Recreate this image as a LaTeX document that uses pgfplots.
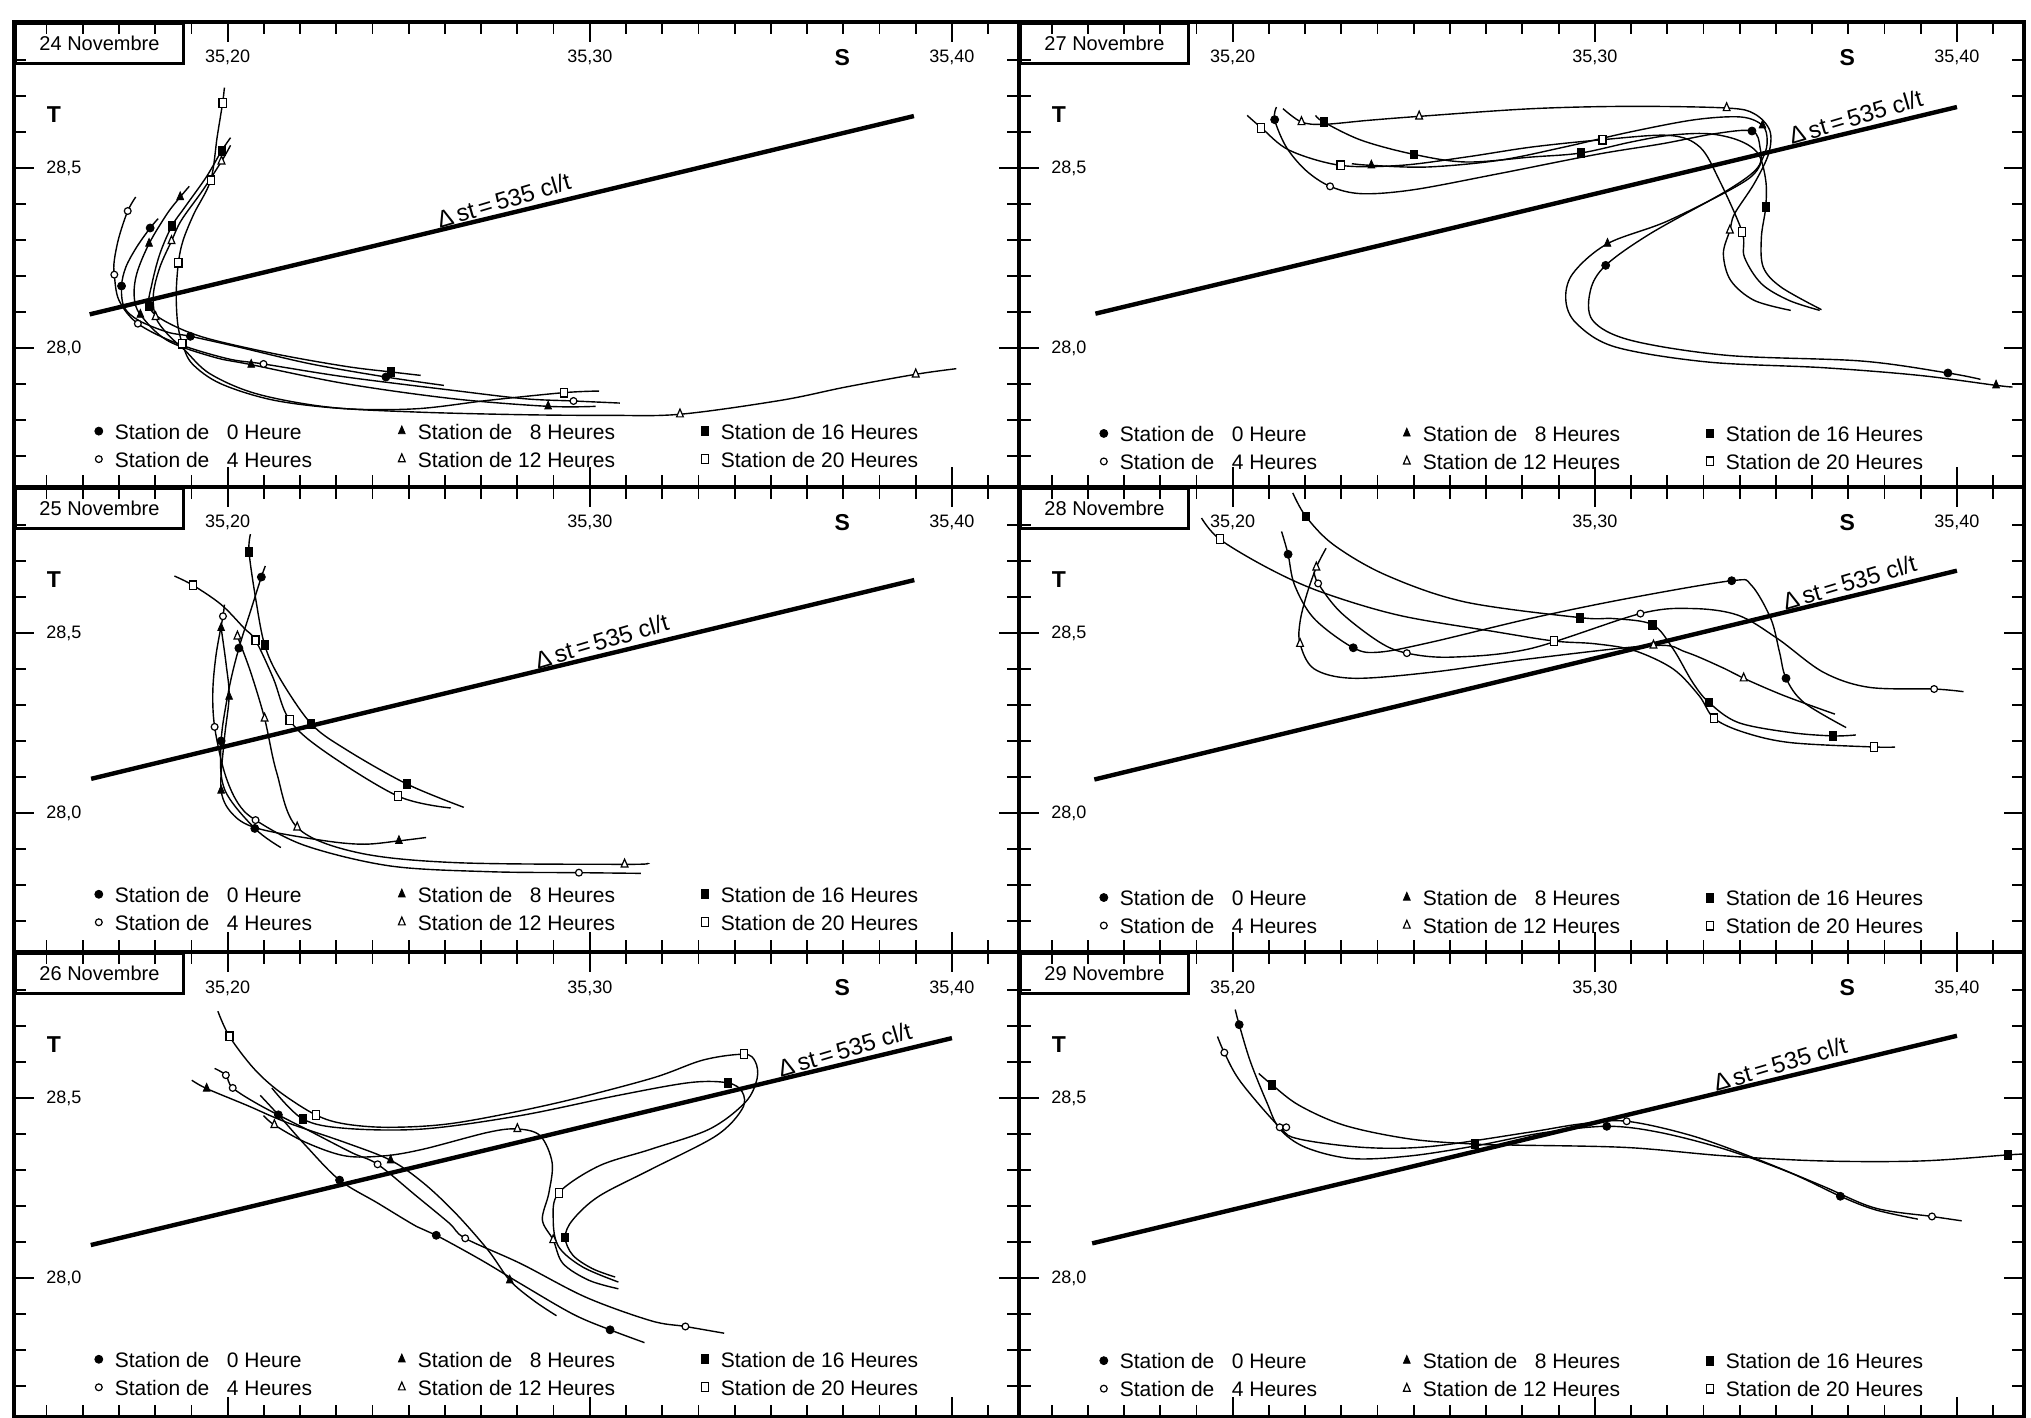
\documentclass[border=0pt]{standalone}
\usepackage{pgfplots}
\pgfplotsset{compat=1.18}
\usepackage{fontspec}
\setmainfont{Liberation Sans}
\setsansfont{Liberation Sans}
\newcommand\fTick{\fontsize{9}{10}\selectfont}
\newcommand\fLeg{\fontsize{10.5}{12}\selectfont}
\newcommand\fDate{\fontsize{10}{12}\selectfont}
\newcommand\fDelta{\fontsize{12}{13}\selectfont}
\newcommand\fST{\fontsize{11.5}{12}\selectfont\bfseries}
\tikzset{dstlab/.style={above, sloped, rotate=3, inner sep=1.5pt, font=\fDelta}}
\pgfplotsset{
  crv/.style={black, line width=0.7pt, smooth, tension=0.55, no marks, forget plot},
  mk0/.style={black, only marks, mark=*, mark size=2pt},
  mk4/.style={black, only marks, mark=*, mark size=1.7pt, mark options={fill=white, line width=0.6pt}},
  mk8/.style={black, only marks, mark=triangle*, mark size=2.6pt, mark options={xscale=0.75}},
  mk12/.style={black, only marks, mark=triangle*, mark size=2.6pt, mark options={xscale=0.75, fill=white, line width=0.6pt}},
  mk16/.style={black, only marks, mark=square*, mark size=2.2pt, mark options={xscale=0.8}},
  mk20/.style={black, only marks, mark=square*, mark size=2.2pt, mark options={xscale=0.8, fill=white, line width=0.6pt}},
  dst/.style={black, line width=2.2pt, no marks, forget plot},
  tsaxis/.style={
    x=1810.7pt, y=180pt,
    xmin=35.141, xmax=35.4186, ymin=27.614, ymax=28.906,
    anchor=south west,
    axis line style={line width=2pt},
    tick align=inside,
    xtick={35.2,35.3,35.4},
    minor xtick={35.15,35.16,35.17,35.18,35.19,35.21,35.22,35.23,35.24,35.25,35.26,35.27,35.28,35.29,35.31,35.32,35.33,35.34,35.35,35.36,35.37,35.38,35.39,35.41},
    ytick={28.0,28.5},
    minor ytick={27.7,27.8,27.9,28.1,28.2,28.3,28.4,28.6,28.7,28.8},
    xticklabels={,,}, yticklabels={,},
    major tick length=10pt, minor tick length=6pt,
    every tick/.style={black, line width=0.9pt},
    clip=false,
    legend columns=3,
    legend style={draw=none, fill=none, anchor=west, inner sep=0pt,
      font=\fLeg, row sep=6pt, column sep=0pt,
      nodes={inner sep=0pt, text height=8pt, text depth=0pt}},
    legend image code/.code={\path[draw=none, fill=none] (-3pt,-3pt) rectangle (3pt,3pt); \draw[##1] plot coordinates {(0pt,0pt)};},
  },
}
\newcommand\legtext[1]{\makebox[145.5pt][l]{\hspace{5pt}Station de #1}}
\newcommand\tslegend{%
 \addlegendimage{mk0}\addlegendentry{\legtext{\phantom{1}0 Heure}}
 \addlegendimage{mk8}\addlegendentry{\legtext{\phantom{1}8 Heures}}
 \addlegendimage{mk16}\addlegendentry{\legtext{16 Heures}}
 \addlegendimage{mk4}\addlegendentry{\legtext{\phantom{1}4 Heures}}
 \addlegendimage{mk12}\addlegendentry{\legtext{12 Heures}}
 \addlegendimage{mk20}\addlegendentry{\legtext{20 Heures}}
}
\newcommand\panelframe[1]{%
  \node[draw, line width=1.5pt, anchor=north west, minimum width=84pt, minimum height=20pt, inner sep=0pt, font=\fDate] at (rel axis cs:0,1) {#1};
  \node[font=\fTick] at (axis cs:35.2,28.806) {35,20};
  \node[font=\fTick] at (axis cs:35.3,28.806) {35,30};
  \node[font=\fTick] at (axis cs:35.4,28.806) {35,40};
  \node[font=\fST] at (axis cs:35.3697,28.806) {S};
  \node[font=\fST] at (axis cs:35.152,28.648) {T};
  \node[font=\fTick] at (axis cs:35.1548,28.5) {28,5};
  \node[font=\fTick] at (axis cs:35.1548,28.0) {28,0};
}
\newcommand\dsttext{Δ\,st\,=\,535 cl/t}
\begin{document}
\begin{tikzpicture}
\useasboundingbox (0,0) rectangle (1015.5pt,709pt);

%% ---------------- 24 Novembre ----------------
\begin{axis}[tsaxis, at={(7pt,465.5pt)}, legend style={at={(0.078,0.090)}}]
\panelframe{24 Novembre}
\addplot[dst] coordinates {(35.1619,28.0935) (35.3895,28.6444)} node[dstlab, pos=0.507] {\dsttext};
% 20 h
\addplot[crv] coordinates {(35.1991,28.7232) (35.1986,28.6806) (35.1971,28.5862) (35.1953,28.4658) (35.1907,28.3732) (35.1877,28.2992) (35.1864,28.2371) (35.1858,28.1510) (35.1862,28.0677) (35.1875,28.0121) (35.1902,27.9564) (35.1981,27.9008) (35.2129,27.8547) (35.2326,27.8314) (35.2523,27.8314) (35.2720,27.8547) (35.2928,27.8760) (35.3026,27.8805)};
\addplot[mk20, forget plot] coordinates {(35.1986,28.6806) (35.1953,28.4658) (35.1864,28.2371) (35.1875,28.0121) (35.2928,27.8760)};
% 16 h
\addplot[crv] coordinates {(35.2008,28.5843) (35.1983,28.5473) (35.1941,28.4751) (35.1882,28.3916) (35.1846,28.3390) (35.1813,28.2622) (35.1791,28.1788) (35.1783,28.1158) (35.1823,28.0768) (35.1931,28.0305) (35.2129,27.9842) (35.2326,27.9490) (35.2452,27.9334) (35.2533,27.9240)};
\addplot[mk16, forget plot] coordinates {(35.1983,28.5473) (35.1846,28.3390) (35.1783,28.1158) (35.2452,27.9334)};
% 0 h
\addplot[crv] coordinates {(35.1808,28.3594) (35.1786,28.3334) (35.1749,28.2808) (35.1719,28.2251) (35.1707,28.1723) (35.1714,28.1140) (35.1754,28.0768) (35.1833,28.0444) (35.1897,28.0325) (35.2030,28.0027) (35.2227,27.9564) (35.2437,27.9195) (35.2597,27.8962)};
\addplot[mk0, forget plot] coordinates {(35.1786,28.3334) (35.1707,28.1723) (35.1897,28.0325) (35.2437,27.9195)};
% 4 h
\addplot[crv] coordinates {(35.1746,28.4195) (35.1724,28.3806) (35.1700,28.3084) (35.1687,28.2436) (35.1687,28.2038) (35.1700,28.1325) (35.1752,28.0677) (35.1862,28.0121) (35.2000,27.9703) (35.2099,27.9557) (35.2326,27.9195) (35.2622,27.8824) (35.2819,27.8592) (35.2955,27.8529) (35.3083,27.8471)};
\addplot[mk4, forget plot] coordinates {(35.1724,28.3806) (35.1687,28.2038) (35.1752,28.0677) (35.2099,27.9557) (35.2955,27.8529)};
% 8 h
\addplot[crv] coordinates {(35.1894,28.4492) (35.1869,28.4195) (35.1833,28.3732) (35.1783,28.2899) (35.1749,28.2066) (35.1742,28.1418) (35.1759,28.0927) (35.1833,28.0212) (35.1961,27.9749) (35.2065,27.9538) (35.2326,27.9008) (35.2622,27.8592) (35.2885,27.8380) (35.3016,27.8380)};
\addplot[mk8, forget plot] coordinates {(35.1869,28.4195) (35.1783,28.2899) (35.1759,28.0927) (35.2065,27.9538) (35.2885,27.8380)};
% 12 h
\addplot[crv] coordinates {(35.2008,28.5631) (35.1983,28.5186) (35.1931,28.4379) (35.1872,28.3547) (35.1845,28.2973) (35.1813,28.2251) (35.1795,28.1510) (35.1801,28.0862) (35.1833,28.0397) (35.1882,27.9935) (35.1951,27.9286) (35.2079,27.8731) (35.2277,27.8360) (35.2523,27.8221) (35.2819,27.8147) (35.3051,27.8130) (35.3249,27.8160) (35.3527,27.8546) (35.3707,27.8917) (35.3900,27.9270) (35.4012,27.9426)};
\addplot[mk12, forget plot] coordinates {(35.1983,28.5186) (35.1845,28.2973) (35.1801,28.0862) (35.3249,27.8160) (35.3900,27.9270)};
\tslegend
\end{axis}

%% ---------------- 27 Novembre ----------------
\begin{axis}[tsaxis, at={(509.5pt,465.5pt)}, legend style={at={(0.078,0.085)}}]
\panelframe{27 Novembre}
\addplot[dst] coordinates {(35.1621,28.0954) (35.4000,28.6694)} node[dstlab, pos=0.887] {\dsttext};
% 12 h
\addplot[crv] coordinates {(35.2139,28.6648) (35.2190,28.6278) (35.2251,28.6213) (35.2374,28.6324) (35.2515,28.6435) (35.2826,28.6648) (35.3097,28.6713) (35.3364,28.6667) (35.3440,28.6509) (35.3483,28.6046) (35.3480,28.5398) (35.3440,28.4565) (35.3386,28.3731) (35.3373,28.3269) (35.3355,28.2620) (35.3375,28.1880) (35.3440,28.1324) (35.3541,28.1046)};
\addplot[mk12, forget plot] coordinates {(35.2190,28.6278) (35.2515,28.6435) (35.3364,28.6667) (35.3373,28.3269)};
% 16 h
\addplot[crv] coordinates {(35.2229,28.6463) (35.2251,28.6278) (35.2356,28.5769) (35.2500,28.5380) (35.2645,28.5167) (35.2826,28.5306) (35.2961,28.5417) (35.3100,28.5722) (35.3205,28.5907) (35.3312,28.5954) (35.3397,28.5769) (35.3451,28.5398) (35.3472,28.4657) (35.3472,28.3917) (35.3460,28.3083) (35.3465,28.2250) (35.3514,28.1694) (35.3626,28.1065)};
\addplot[mk16, forget plot] coordinates {(35.2251,28.6278) (35.2500,28.5380) (35.2961,28.5417) (35.3472,28.3917)};
% 20 h
\addplot[crv] coordinates {(35.2040,28.6463) (35.2079,28.6120) (35.2157,28.5491) (35.2298,28.5074) (35.2464,28.5074) (35.2645,28.5306) (35.2826,28.5583) (35.3021,28.5787) (35.3205,28.5907) (35.3290,28.5583) (35.3344,28.4657) (35.3407,28.3222) (35.3413,28.2528) (35.3460,28.1787) (35.3536,28.1324) (35.3621,28.1046)};
\addplot[mk20, forget plot] coordinates {(35.2079,28.6120) (35.2298,28.5074) (35.3021,28.5787) (35.3407,28.3222)};
% 8 h
\addplot[crv] coordinates {(35.2329,28.5120) (35.2383,28.5074) (35.2537,28.5028) (35.2735,28.5213) (35.2916,28.5583) (35.3097,28.6000) (35.3277,28.6343) (35.3404,28.6417) (35.3463,28.6185) (35.3476,28.5769) (35.3465,28.5306) (35.3418,28.4657) (35.3205,28.3546) (35.3035,28.2898) (35.2939,28.2065) (35.2920,28.1324) (35.2950,28.0676) (35.3057,28.0028) (35.3312,27.9611) (35.3630,27.9454) (35.3895,27.9241) (35.4108,27.8963) (35.4154,27.8917)};
\addplot[mk8, forget plot] coordinates {(35.2383,28.5074) (35.3463,28.6185) (35.3035,28.2898) (35.4108,27.8963)};
% 0 h
\addplot[crv] coordinates {(35.2121,28.6694) (35.2116,28.6343) (35.2148,28.5583) (35.2202,28.4935) (35.2269,28.4491) (35.2356,28.4287) (35.2500,28.4398) (35.2735,28.4843) (35.3006,28.5380) (35.3187,28.5676) (35.3332,28.5954) (35.3434,28.6028) (35.3456,28.5583) (35.3451,28.5028) (35.3366,28.4380) (35.3153,28.3176) (35.3030,28.2296) (35.2988,28.1602) (35.2994,28.0769) (35.3100,28.0213) (35.3366,27.9796) (35.3736,27.9639) (35.3975,27.9306) (35.4065,27.9130)};
\addplot[mk0, forget plot] coordinates {(35.2116,28.6343) (35.3434,28.6028) (35.3030,28.2296) (35.3975,27.9306)};
\addplot[mk4, forget plot] coordinates {(35.2269,28.4491)};
\tslegend
\end{axis}

%% ---------------- 25 Novembre ----------------
\begin{axis}[tsaxis, at={(7pt,233pt)}, legend style={at={(0.078,0.094)}}]
\panelframe{25 Novembre}
\addplot[dst] coordinates {(35.1623,28.0950) (35.3896,28.6471)} node[dstlab, pos=0.625] {\dsttext};
% 16 h
\addplot[crv] coordinates {(35.2063,28.7747) (35.2059,28.7253) (35.2077,28.5978) (35.2102,28.4674) (35.2144,28.3743) (35.2230,28.2486) (35.2323,28.1788) (35.2494,28.0810) (35.2652,28.0158)};
\addplot[mk16, forget plot] coordinates {(35.2059,28.7253) (35.2102,28.4674) (35.2230,28.2486) (35.2494,28.0810)};
% 20 h
\addplot[crv] coordinates {(35.1853,28.6583) (35.1905,28.6322) (35.1982,28.5791) (35.2045,28.5140) (35.2077,28.4795) (35.2126,28.3743) (35.2171,28.2579) (35.2270,28.1695) (35.2471,28.0466) (35.2616,28.0140)};
\addplot[mk20, forget plot] coordinates {(35.1905,28.6322) (35.2077,28.4795) (35.2171,28.2579) (35.2471,28.0466)};
% 0 h
\addplot[crv] coordinates {(35.2104,28.6862) (35.2093,28.6555) (35.2063,28.5605) (35.2031,28.4581) (35.2004,28.3464) (35.1982,28.2002) (35.1991,28.0670) (35.2075,27.9572) (35.2147,27.9041)};
\addplot[mk0, forget plot] coordinates {(35.2093,28.6555) (35.2031,28.4581) (35.1982,28.2002) (35.2075,27.9572)};
% 4 h
\addplot[crv] coordinates {(35.1991,28.5791) (35.1987,28.5466) (35.1968,28.4395) (35.1959,28.3371) (35.1964,28.2393) (35.1991,28.1136) (35.2027,28.0298) (35.2077,27.9804) (35.2216,27.9088) (35.2449,27.8529) (35.2719,27.8371) (35.2970,27.8343) (35.3141,27.8324)};
\addplot[mk4, forget plot] coordinates {(35.1987,28.5466) (35.1964,28.2393) (35.2077,27.9804) (35.2970,27.8343)};
% 8 h
\addplot[crv] coordinates {(35.1982,28.5140) (35.1996,28.4115) (35.2004,28.3231) (35.1991,28.2067) (35.1982,28.0624) (35.2018,27.9926) (35.2090,27.9553) (35.2270,27.9227) (35.2377,27.9134) (35.2473,27.9227) (35.2548,27.9320)};
\addplot[mk8, forget plot] coordinates {(35.1982,28.5140) (35.2004,28.3231) (35.1982,28.0624) (35.2473,27.9227)};
% 12 h
\addplot[crv] coordinates {(35.2027,28.4907) (35.2063,28.3929) (35.2102,28.2626) (35.2135,28.1136) (35.2192,27.9600) (35.2359,27.8901) (35.2629,27.8622) (35.3096,27.8575) (35.3159,27.8603)};
\addplot[mk12, forget plot] coordinates {(35.2027,28.4907) (35.2102,28.2626) (35.2192,27.9600) (35.3096,27.8575)};
\tslegend
\end{axis}

%% ---------------- 28 Novembre ----------------
\begin{axis}[tsaxis, at={(509.5pt,233pt)}, legend style={at={(0.078,0.087)}}]
\panelframe{28 Novembre}
\addplot[dst] coordinates {(35.1618,28.0931) (35.4000,28.6732)} node[dstlab, pos=0.88] {\dsttext};
% 20 h
\addplot[crv] coordinates {(35.1914,28.8194) (35.1964,28.7607) (35.2099,28.6797) (35.2243,28.6145) (35.2459,28.5493) (35.2730,28.5028) (35.2888,28.4777) (35.3000,28.4702) (35.3108,28.4516) (35.3216,28.4004) (35.3288,28.3259) (35.3330,28.2626) (35.3414,28.2235) (35.3541,28.1955) (35.3771,28.1834) (35.3829,28.1834)};
\addplot[mk20, forget plot] coordinates {(35.1964,28.7607) (35.2888,28.4777) (35.3330,28.2626) (35.3771,28.1834)};
% 16 h
\addplot[crv] coordinates {(35.2166,28.8892) (35.2202,28.8240) (35.2279,28.7449) (35.2423,28.6611) (35.2640,28.5866) (35.2959,28.5428) (35.3054,28.5400) (35.3159,28.5233) (35.3216,28.4562) (35.3270,28.3631) (35.3315,28.3073) (35.3396,28.2514) (35.3541,28.2235) (35.3658,28.2142) (35.3721,28.2169)};
\addplot[mk16, forget plot] coordinates {(35.2202,28.8240) (35.2959,28.5428) (35.3159,28.5233) (35.3315,28.3073) (35.3658,28.2142)};
% 0 h
\addplot[crv] coordinates {(35.2135,28.7821) (35.2153,28.7188) (35.2171,28.6331) (35.2225,28.5400) (35.2333,28.4590) (35.2405,28.4469) (35.2550,28.4749) (35.2820,28.5400) (35.3090,28.5959) (35.3378,28.6453) (35.3432,28.6331) (35.3486,28.5400) (35.3510,28.4469) (35.3528,28.3743) (35.3577,28.3073) (35.3694,28.2374)};
\addplot[mk0, forget plot] coordinates {(35.2153,28.7188) (35.2333,28.4590) (35.3378,28.6453) (35.3528,28.3743)};
% 4 h
\addplot[crv] coordinates {(35.2225,28.6704) (35.2236,28.6378) (35.2297,28.5587) (35.2405,28.4749) (35.2481,28.4441) (35.2604,28.4330) (35.2820,28.4562) (35.3126,28.5540) (35.3270,28.5680) (35.3396,28.5493) (35.3505,28.4842) (35.3631,28.3911) (35.3757,28.3492) (35.3937,28.3445) (35.4018,28.3371)};
\addplot[mk4, forget plot] coordinates {(35.2236,28.6378) (35.2481,28.4441) (35.3126,28.5540) (35.3937,28.3445)};
% 12 h
\addplot[crv] coordinates {(35.2258,28.7356) (35.2231,28.6825) (35.2204,28.6052) (35.2186,28.5307) (35.2186,28.4702) (35.2225,28.4004) (35.2333,28.3743) (35.2550,28.3911) (35.2820,28.4283) (35.3162,28.4655) (35.3252,28.4469) (35.3360,28.4004) (35.3411,28.3743) (35.3523,28.3259) (35.3663,28.2747)};
\addplot[mk12, forget plot] coordinates {(35.2231,28.6825) (35.2186,28.4702) (35.3162,28.4655) (35.3411,28.3743)};
\tslegend
\end{axis}

%% ---------------- 26 Novembre ----------------
\begin{axis}[tsaxis, at={(7pt,0.5pt)}, legend style={at={(0.078,0.094)}}]
\panelframe{26 Novembre}
\addplot[dst] coordinates {(35.1622,28.0916) (35.4000,28.6664)} node[dstlab, pos=0.88] {\dsttext};
% 20 h
\addplot[crv] coordinates {(35.1973,28.7411) (35.2005,28.6710) (35.2072,28.5822) (35.2144,28.5168) (35.2243,28.4533) (35.2324,28.4280) (35.2450,28.4187) (35.2629,28.4308) (35.2899,28.4841) (35.3169,28.5542) (35.3313,28.6056) (35.3426,28.6215) (35.3457,28.6009) (35.3462,28.5542) (35.3430,28.4888) (35.3331,28.4140) (35.3169,28.3579) (35.3025,28.3112) (35.2914,28.2364) (35.2899,28.1617) (35.2914,28.0869) (35.2980,28.0308) (35.3079,27.9888)};
\addplot[mk20, forget plot] coordinates {(35.2005,28.6710) (35.2243,28.4533) (35.3426,28.6215) (35.2914,28.2364)};
% 16 h
\addplot[crv] coordinates {(35.2122,28.5280) (35.2207,28.4421) (35.2324,28.4159) (35.2540,28.4140) (35.2809,28.4514) (35.3079,28.5075) (35.3277,28.5430) (35.3381,28.5421) (35.3421,28.5168) (35.3421,28.4701) (35.3349,28.3953) (35.3169,28.3019) (35.3025,28.2271) (35.2953,28.1617) (35.2932,28.1131) (35.2953,28.0636) (35.3007,28.0262) (35.3070,28.0028)};
\addplot[mk16, forget plot] coordinates {(35.2207,28.4421) (35.3381,28.5421) (35.2932,28.1131)};
% 12 h
\addplot[crv] coordinates {(35.2099,28.4514) (35.2129,28.4252) (35.2216,28.3766) (35.2324,28.3393) (35.2432,28.3393) (35.2540,28.3579) (35.2719,28.4047) (35.2800,28.4140) (35.2863,28.3953) (35.2896,28.3206) (35.2887,28.2364) (35.2869,28.1617) (35.2899,28.1056) (35.2926,28.0402) (35.2998,27.9935) (35.3079,27.9701)};
\addplot[mk12, forget plot] coordinates {(35.2129,28.4252) (35.2800,28.4140) (35.2899,28.1056)};
% 8 h
\addplot[crv] coordinates {(35.1901,28.5495) (35.1942,28.5262) (35.2054,28.4794) (35.2162,28.4327) (35.2324,28.3766) (35.2450,28.3271) (35.2540,28.2645) (35.2629,28.1804) (35.2719,28.0776) (35.2779,27.9935) (35.2845,27.9374) (35.2908,27.8953)};
\addplot[mk8, forget plot] coordinates {(35.1942,28.5262) (35.2450,28.3271) (35.2779,27.9935)};
% 0 h
\addplot[crv] coordinates {(35.2090,28.5075) (35.2140,28.4533) (35.2216,28.3673) (35.2309,28.2720) (35.2414,28.2084) (35.2522,28.1430) (35.2576,28.1187) (35.2701,28.0495) (35.2809,27.9841) (35.2953,27.9000) (35.3056,27.8561) (35.3151,27.8206)};
\addplot[mk0, forget plot] coordinates {(35.2140,28.4533) (35.2309,28.2720) (35.2576,28.1187) (35.3056,27.8561)};
% 4 h
\addplot[crv] coordinates {(35.1964,28.5822) (35.1995,28.5636) (35.2014,28.5280) (35.2090,28.4794) (35.2216,28.4140) (35.2342,28.3486) (35.2414,28.3159) (35.2522,28.2271) (35.2612,28.1523) (35.2656,28.1103) (35.2809,28.0402) (35.2989,27.9467) (35.3169,27.8813) (35.3264,27.8654) (35.3371,27.8467)};
\addplot[mk4, forget plot] coordinates {(35.1995,28.5636) (35.2014,28.5280) (35.2414,28.3159) (35.2656,28.1103) (35.3264,27.8654)};
\tslegend
\end{axis}

%% ---------------- 29 Novembre ----------------
\begin{axis}[tsaxis, at={(509.5pt,0.5pt)}, legend style={at={(0.078,0.091)}}]
\panelframe{29 Novembre}
\addplot[dst] coordinates {(35.1612,28.0963) (35.4000,28.6729)} node[dstlab, pos=0.80] {\dsttext};
% 0 h
\addplot[crv] coordinates {(35.2007,28.7458) (35.2018,28.7037) (35.2049,28.6009) (35.2094,28.4888) (35.2130,28.4140) (35.2202,28.3626) (35.2329,28.3318) (35.2491,28.3393) (35.2672,28.3673) (35.2853,28.4028) (35.3033,28.4215) (35.3178,28.4047) (35.3359,28.3579) (35.3539,28.2925) (35.3678,28.2271) (35.3774,28.1897) (35.3892,28.1636)};
\addplot[mk0, forget plot] coordinates {(35.2018,28.7037) (35.3033,28.4215) (35.3678,28.2271)};
% 4 h
\addplot[crv] coordinates {(35.1958,28.6710) (35.1977,28.6262) (35.2022,28.5449) (35.2130,28.4187) (35.2184,28.3860) (35.2365,28.3626) (35.2546,28.3654) (35.2817,28.4047) (35.2961,28.4280) (35.3088,28.4355) (35.3268,28.3953) (35.3449,28.3299) (35.3630,28.2551) (35.3774,28.1944) (35.3931,28.1710) (35.4013,28.1589)};
\addplot[mk4, forget plot] coordinates {(35.1977,28.6262) (35.2130,28.4187) (35.2148,28.4187) (35.3088,28.4355) (35.3931,28.1710)};
% 16 h
\addplot[crv] coordinates {(35.2072,28.5682) (35.2108,28.5374) (35.2184,28.4794) (35.2311,28.4234) (35.2491,28.3860) (35.2668,28.3720) (35.2780,28.3692) (35.3088,28.3626) (35.3359,28.3393) (35.3630,28.3252) (35.3901,28.3252) (35.4141,28.3421) (35.4181,28.3440)};
\addplot[mk16, forget plot] coordinates {(35.2108,28.5374) (35.2668,28.3720) (35.4141,28.3421)};
\tslegend
\end{axis}
\end{tikzpicture}
\end{document}
